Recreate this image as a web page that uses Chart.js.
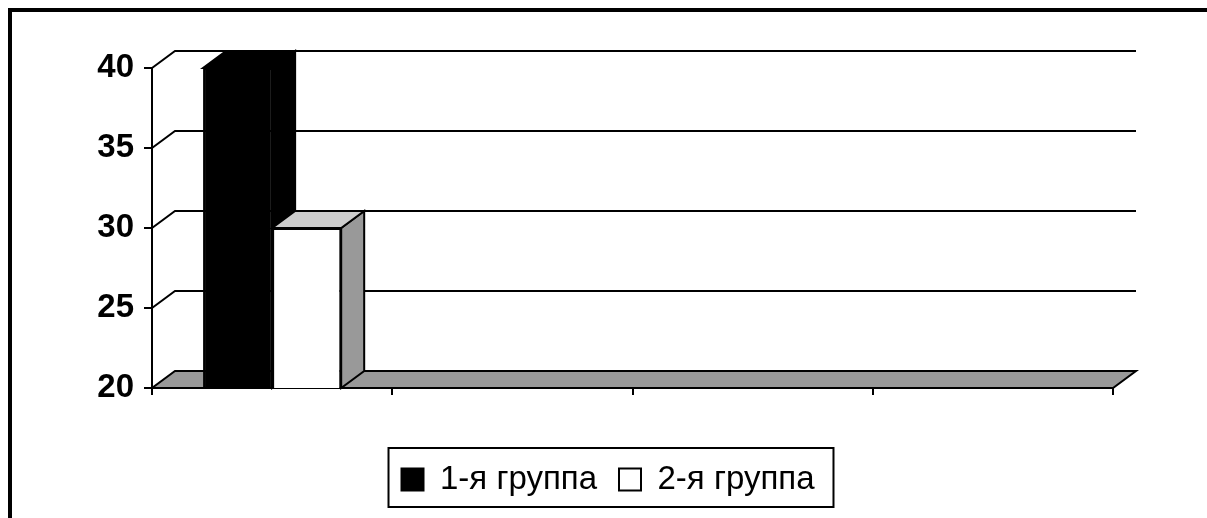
<!DOCTYPE html>
<html lang="ru">
<head>
<meta charset="utf-8">
<script src="https://cdn.jsdelivr.net/npm/chart.js@4/dist/chart.umd.min.js"></script>
<style>
  html, body { margin: 0; padding: 0; background: #fff; }
  #wrap  { position: relative; width: 1207px; height: 518px; overflow: hidden; }
  #frame { position: absolute; left: 8px; top: 8px; right: -10px; bottom: -10px;
           border-left: 4px solid #000; border-top: 4px solid #000; }
  canvas { position: absolute; left: 0; top: 0; }
</style>
</head>
<body>
<div id="wrap">
  <div id="frame"></div>
  <canvas id="chart" width="1207" height="518"></canvas>
</div>
<script>
// ---- Data -------------------------------------------------
const categories  = ["", "", "", ""];
const seriesNames = ["1-я группа", "2-я группа"];
const group1      = [40, null, null, null];
const group2      = [30, null, null, null];
const yTicks      = [20, 25, 30, 35, 40];

const FONT  = "'Liberation Sans', Arial, sans-serif";
const depth = { dx: 23, dy: -17 };   // 3D offset of the back wall

// ---- 3D walls, floor and bar extrusions -------------------
const box3d = {
  id: "box3d",
  beforeDatasetsDraw(chart) {
    const { ctx, chartArea: a, scales: { y } } = chart;
    const { dx, dy } = depth;
    const poly = (pts) => {
      ctx.beginPath();
      ctx.moveTo(pts[0], pts[1]);
      for (let i = 2; i < pts.length; i += 2) ctx.lineTo(pts[i], pts[i + 1]);
      ctx.closePath();
      ctx.fill();
      ctx.stroke();
    };

    ctx.save();
    ctx.lineWidth   = 2;
    ctx.strokeStyle = "#000";
    ctx.lineJoin    = "miter";

    // grid lines on the left + back wall
    y.ticks.forEach((t) => {
      if (t.value === y.min) return;
      const py = y.getPixelForValue(t.value);
      ctx.beginPath();
      ctx.moveTo(a.left, py);
      ctx.lineTo(a.left + dx, py + dy);
      ctx.lineTo(a.right + dx, py + dy);
      ctx.stroke();
    });

    // floor
    const fy = y.getPixelForValue(y.min);
    ctx.fillStyle = "#999";
    poly([a.left, fy, a.right, fy, a.right + dx, fy + dy, a.left + dx, fy + dy]);

    // side + top faces, left to right so nearer bars cover farther ones
    const bars = [];
    chart.data.datasets.forEach((ds, di) => {
      chart.getDatasetMeta(di).data.forEach((el, i) => {
        if (ds.data[i] == null) return;
        bars.push({ el, ds });
      });
    });
    bars.sort((p, q) => p.el.x - q.el.x);
    bars.forEach(({ el, ds }) => {
      // bar base sits on the floor (axis min), not at value 0
      const l = el.x - el.width / 2, r = el.x + el.width / 2, t = el.y, b = fy;
      ctx.fillStyle = ds.sideColor;
      poly([r, t, r + dx, t + dy, r + dx, b + dy, r, b]);
      ctx.fillStyle = ds.topColor;
      poly([l, t, r, t, r + dx, t + dy, l + dx, t + dy]);
    });
    ctx.restore();
  },
  afterDraw(chart) {
    // frame round the legend
    const hb = chart.legend.legendHitBoxes;
    if (!hb || !hb.length) return;
    const first = hb[0], last = hb[hb.length - 1];
    const { ctx } = chart;
    const x0 = first.left - 13, x1 = last.left + last.width + 19;
    ctx.save();
    ctx.lineWidth   = 2;
    ctx.strokeStyle = "#000";
    ctx.strokeRect(x0, first.top - 15, x1 - x0, first.height + 26);
    ctx.restore();
  },
};

// ---- Chart ------------------------------------------------
new Chart(document.getElementById("chart").getContext("2d"), {
  type: "bar",
  data: {
    labels: categories,
    datasets: [
      {
        label: seriesNames[0],
        data: group1,
        backgroundColor: "#000",
        borderColor: "#000",
        borderWidth: 2,
        sideColor: "#000",
        topColor: "#000",
      },
      {
        label: seriesNames[1],
        data: group2,
        backgroundColor: "#fff",
        borderColor: "#000",
        borderWidth: 2,
        sideColor: "#999",
        topColor: "#ccc",
      },
    ],
  },
  options: {
    responsive: false,
    animation: false,
    categoryPercentage: 0.575,
    barPercentage: 1,
    layout: { padding: { left: 9, right: 0, top: 68, bottom: 12 } },
    plugins: {
      tooltip: { enabled: false },
      legend: {
        position: "bottom",
        labels: {
          font: { family: FONT, size: 33 },
          color: "#000",
          boxWidth: 22,
          boxHeight: 22,
          padding: 22,
        },
      },
    },
    scales: {
      x: {
        grid: { offset: true, drawOnChartArea: false, drawTicks: true, tickLength: 7, color: "#000", lineWidth: 2 },
        ticks: { display: false },
        border: { display: true, color: "#000", width: 2 },
        afterFit: (s) => { s.height = 53; },
      },
      y: {
        min: yTicks[0],
        max: yTicks[yTicks.length - 1],
        afterBuildTicks: (s) => { s.ticks = yTicks.map((v) => ({ value: v })); },
        grid: { drawOnChartArea: false, drawTicks: true, tickLength: 8, color: "#000", lineWidth: 2 },
        ticks: { font: { family: FONT, size: 33, weight: "bold" }, color: "#000", padding: 10 },
        border: { display: true, color: "#000", width: 2 },
        afterFit: (s) => { s.width = 143; },
      },
      yr: {
        type: "linear",
        position: "right",
        grid: { display: false },
        ticks: { display: false },
        border: { display: false },
        afterFit: (s) => { s.width = 94; },
      },
    },
  },
  plugins: [box3d],
});
</script>
</body>
</html>
